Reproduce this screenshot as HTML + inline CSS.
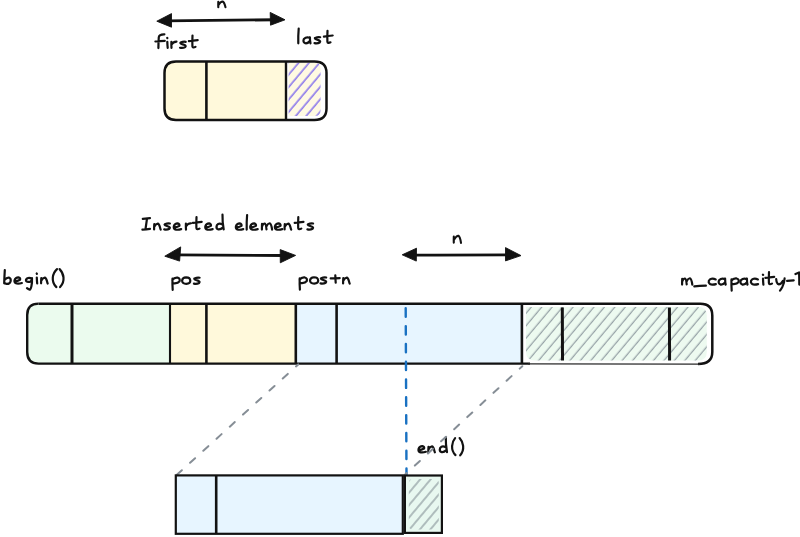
<!DOCTYPE html>
<html><head><meta charset="utf-8"><title>vector insert diagram</title>
<style>
html,body{margin:0;padding:0;background:#ffffff;width:800px;height:537px;overflow:hidden;font-family:"Liberation Sans",sans-serif}
svg{display:block}
</style></head>
<body>
<svg width="800" height="537" viewBox="0 0 800 537">
<defs>
<pattern id="hp" patternUnits="userSpaceOnUse" width="8" height="8" patternTransform="rotate(40)">
<rect x="-1" y="-1" width="10" height="10" fill="#fffae2"/>
<rect x="4.5" y="-1" width="1.25" height="10" fill="#6a54ee"/>
</pattern>
<pattern id="hg" patternUnits="userSpaceOnUse" width="8" height="8" patternTransform="rotate(40)">
<rect x="-1" y="-1" width="10" height="10" fill="#edfaf0"/>
<rect x="3.75" y="-1" width="1.1" height="10" fill="#8a969c"/>
</pattern>
<pattern id="hg2" patternUnits="userSpaceOnUse" width="8" height="8" patternTransform="rotate(40)">
<rect x="-1" y="-1" width="10" height="10" fill="#e8f8f0"/>
<rect x="5.5" y="-1" width="1.0" height="10" fill="#76828a"/>
</pattern>
</defs>

<!-- ===== TOP BOX ===== -->
<path d="M176,61.4 H286 V120 H176 Q164.5,120 164.5,108.5 V72.9 Q164.5,61.4 176,61.4 Z" fill="#fff9db"/>
<path d="M287.5,62.8 H315 Q321,62.8 321,68.8 V110.5 Q321,117 314.5,117 H287.5 Z" fill="#ffffff"/>
<path d="M288.6,62.8 H315 Q320.6,62.8 320.6,68.8 V110 Q320.6,116 314.6,116 H291 Q288.6,116 288.6,113.6 Z" fill="url(#hp)"/>
<path d="M176,61.4 H314.5 Q326.5,61.4 326.5,72.9 V108.5 Q326.5,120 314.5,120 H176 Q164.5,120 164.5,108.5 V72.9 Q164.5,61.4 176,61.4 Z" fill="none" stroke="#121212" stroke-width="2.5"/>
<line x1="206.4" y1="61.4" x2="206.4" y2="120" stroke="#121212" stroke-width="2.6"/>
<line x1="286" y1="61.4" x2="286" y2="120" stroke="#121212" stroke-width="2.4"/>

<!-- top arrow -->
<g fill="#121212" stroke="#121212" stroke-width="0.9" stroke-linejoin="round">
<path d="M156.8,21.2 L171.5,13.6 L171.5,27.2 Z"/>
<path d="M285,19.8 L270.2,12.4 L270.5,25.2 Z"/>
<path d="M164.8,256.2 L180.7,246.9 L179.6,261.1 Z"/>
<path d="M295.6,255.4 L280.2,249.6 L280.3,262.8 Z"/>
<path d="M402.2,254.8 L416.5,248.2 L416.3,261.1 Z"/>
<path d="M521,255.6 L505.5,247.6 L505.5,260.9 Z"/>
</g>
<g fill="none" stroke="#121212" stroke-width="2.9" stroke-linecap="round">
<path d="M166,20.9 Q220,20.2 276,19.7"/>
<path d="M175,254.9 Q230,255.1 285,255.5"/>
<path d="M410,255.1 Q460,255.2 510,254.9"/>
</g>

<!-- ===== BIG BAR ===== -->
<path d="M38.5,303.6 H170 V363.4 H38.5 Q27.2,363.4 27.2,352 V315 Q27.2,303.6 38.5,303.6 Z" fill="#ebfbee"/>
<rect x="170" y="303.5" width="126" height="60.5" fill="#fff9db"/>
<rect x="296" y="303.5" width="226" height="60.5" fill="#e7f5ff"/>
<path d="M526,307 H698 Q706.8,307 706.8,315.5 V352 Q706.8,360.6 698,360.6 H535 Q526,360.6 526,352 Z" fill="url(#hg)"/>
<!-- outer stroke -->
<path d="M38.5,303.7 H700.3 Q712.3,303.7 712.3,315.5 V352 Q712.3,364 698,364" fill="none" stroke="#121212" stroke-width="2.5"/>
<path d="M530,363.6 H38.5 Q27.2,363.4 27.2,352 V315 Q27.2,303.6 38.5,303.6" fill="none" stroke="#121212" stroke-width="2.4"/>
<line x1="528" y1="363.9" x2="700" y2="364.1" stroke="#2a2a2a" stroke-width="1.2"/>
<line x1="72" y1="303.5" x2="72" y2="364" stroke="#121212" stroke-width="3.0"/>
<line x1="170" y1="303.5" x2="170" y2="364" stroke="#121212" stroke-width="2.1"/>
<line x1="206.4" y1="303.5" x2="206.4" y2="364" stroke="#121212" stroke-width="2.6"/>
<line x1="295.8" y1="303.5" x2="295.8" y2="364" stroke="#121212" stroke-width="2.6"/>
<line x1="336.6" y1="303.5" x2="336.6" y2="364" stroke="#121212" stroke-width="2.6"/>
<line x1="521.9" y1="303.5" x2="521.9" y2="364" stroke="#121212" stroke-width="2.6"/>
<line x1="562.3" y1="307.5" x2="562.5" y2="360.5" stroke="#121212" stroke-width="3.0"/>
<line x1="669.4" y1="307.5" x2="669.6" y2="360.5" stroke="#121212" stroke-width="3.0"/>

<g fill="none" stroke="#121212" stroke-linecap="round" stroke-linejoin="round">
<path stroke-width="2.1" d="M218.3,1.8 Q218.2,4.5 218.3,7.3 M218.5,5 Q220.6,1.4 222.7,1.5 Q224.3,2.2 225.5,7.3"/>
<path transform="translate(155.40,48.10) scale(1.0,1.0)" vector-effect="non-scaling-stroke" stroke-width="2.20" d="M3,0 Q3,-6 3.4,-11 Q4,-14 9,-13.8 M0,-6.6 Q4.6,-7 9.4,-7.3"/>
<path transform="translate(166.90,48.10) scale(1.0,1.0)" vector-effect="non-scaling-stroke" stroke-width="2.20" d="M0.4,-6.2 Q0.5,-3.1 0.8,-0.2 M0.3,-10.2 L0.5,-9.9"/>
<path transform="translate(170.90,48.10) scale(1.0,0.86)" vector-effect="non-scaling-stroke" stroke-width="2.20" d="M0.5,-7.2 Q0.4,-3.6 0.6,-0.2 M0.7,-4.2 Q2,-7.2 5.6,-7.6"/>
<path transform="translate(179.40,48.10) scale(1.0,0.86)" vector-effect="non-scaling-stroke" stroke-width="2.20" d="M6.3,-7.3 Q4.2,-8 1.2,-6.5 Q0.6,-5.9 1.6,-5.2 Q3.4,-4.3 5.2,-3.6 Q7,-2.6 5.8,-1.2 Q3.8,0.2 0.6,-0.4"/>
<path transform="translate(188.90,48.10) scale(1.0,1.0)" vector-effect="non-scaling-stroke" stroke-width="2.20" d="M3.6,-12.6 Q3.3,-6.5 3.5,-1.8 Q3.9,0.3 6.6,-1.2 M0,-6.9 Q4.2,-7.4 8.8,-8"/>
<path transform="translate(297.50,43.50) scale(1.0,1.0)" vector-effect="non-scaling-stroke" stroke-width="2.20" d="M1.2,-14.8 Q0.6,-8 0.8,-0.2"/>
<path transform="translate(302.90,43.50) scale(1.0,0.86)" vector-effect="non-scaling-stroke" stroke-width="2.20" d="M7,-6.6 Q3.5,-8.4 1,-5.2 Q-0.4,-1.6 2.4,-0.3 Q5,0.2 7.2,-3.2 M7,-7.2 Q7,-3 7.6,-0.2"/>
<path transform="translate(313.90,43.50) scale(1.0,0.86)" vector-effect="non-scaling-stroke" stroke-width="2.20" d="M6.3,-7.3 Q4.2,-8 1.2,-6.5 Q0.6,-5.9 1.6,-5.2 Q3.4,-4.3 5.2,-3.6 Q7,-2.6 5.8,-1.2 Q3.8,0.2 0.6,-0.4"/>
<path transform="translate(323.90,43.50) scale(1.0,1.0)" vector-effect="non-scaling-stroke" stroke-width="2.20" d="M3.6,-12.6 Q3.3,-6.5 3.5,-1.8 Q3.9,0.3 6.6,-1.2 M0,-6.9 Q4.2,-7.4 8.8,-8"/>
<path transform="translate(142.40,229.80) scale(1.0,1.0)" vector-effect="non-scaling-stroke" stroke-width="2.20" d="M0.4,-11 Q4,-11.3 7.6,-11.6 M4.6,-11.2 Q3.9,-6 3.1,-0.8 M0,-0.1 Q3.8,-0.5 7.6,-1"/>
<path transform="translate(153.90,229.80) scale(1.0,0.86)" vector-effect="non-scaling-stroke" stroke-width="2.20" d="M0.4,-6.6 Q0.2,-3.3 0.2,-0.4 M0.4,-3.6 Q2.2,-7.1 3.8,-7.1 Q5.2,-6.9 6,-3.3 Q6.4,-1.4 6.8,-0.2"/>
<path transform="translate(163.60,229.80) scale(1.0,0.86)" vector-effect="non-scaling-stroke" stroke-width="2.20" d="M6.3,-7.3 Q4.2,-8 1.2,-6.5 Q0.6,-5.9 1.6,-5.2 Q3.4,-4.3 5.2,-3.6 Q7,-2.6 5.8,-1.2 Q3.8,0.2 0.6,-0.4"/>
<path transform="translate(173.40,229.80) scale(1.0,0.86)" vector-effect="non-scaling-stroke" stroke-width="2.20" d="M0.6,-2.8 Q3.5,-3 6,-4.6 Q6.6,-6.8 4.2,-7.4 Q1.4,-7.4 0.4,-4 Q0,-0.8 2.6,-0.2 Q5,0.2 7.8,-0.8"/>
<path transform="translate(185.40,229.80) scale(1.0,0.86)" vector-effect="non-scaling-stroke" stroke-width="2.20" d="M0.5,-7.2 Q0.4,-3.6 0.6,-0.2 M0.7,-4.2 Q2,-7.2 5.6,-7.6"/>
<path transform="translate(192.90,229.80) scale(1.0,1.0)" vector-effect="non-scaling-stroke" stroke-width="2.20" d="M3.6,-12.6 Q3.3,-6.5 3.5,-1.8 Q3.9,0.3 6.6,-1.2 M0,-6.9 Q4.2,-7.4 8.8,-8"/>
<path transform="translate(204.90,229.80) scale(1.0,0.86)" vector-effect="non-scaling-stroke" stroke-width="2.20" d="M0.6,-2.8 Q3.5,-3 6,-4.6 Q6.6,-6.8 4.2,-7.4 Q1.4,-7.4 0.4,-4 Q0,-0.8 2.6,-0.2 Q5,0.2 7.8,-0.8"/>
<path transform="translate(215.90,229.80) scale(1.0,1.0)" vector-effect="non-scaling-stroke" stroke-width="2.20" d="M6.6,-5.2 Q3,-7.2 1,-4.6 Q-0.2,-1.4 2,-0.5 Q4.4,0.2 7.2,-2.4 M6.6,-15.2 Q6.4,-8 7.8,-0.4"/>
<path transform="translate(235.50,229.80) scale(1.0,0.86)" vector-effect="non-scaling-stroke" stroke-width="2.20" d="M0.6,-2.8 Q3.5,-3 6,-4.6 Q6.6,-6.8 4.2,-7.4 Q1.4,-7.4 0.4,-4 Q0,-0.8 2.6,-0.2 Q5,0.2 7.8,-0.8"/>
<path transform="translate(245.90,229.80) scale(1.0,1.0)" vector-effect="non-scaling-stroke" stroke-width="2.20" d="M1.2,-14.8 Q0.6,-8 0.8,-0.2"/>
<path transform="translate(249.90,229.80) scale(1.0,0.86)" vector-effect="non-scaling-stroke" stroke-width="2.20" d="M0.6,-2.8 Q3.5,-3 6,-4.6 Q6.6,-6.8 4.2,-7.4 Q1.4,-7.4 0.4,-4 Q0,-0.8 2.6,-0.2 Q5,0.2 7.8,-0.8"/>
<path transform="translate(261.70,229.80) scale(1.0,0.86)" vector-effect="non-scaling-stroke" stroke-width="2.20" d="M0.3,-6.8 Q0.2,-3.3 0.2,-0.3 M0.4,-4 Q1.6,-7.4 3,-7.3 Q4.3,-7 4.8,-0.6 M4.8,-4.2 Q6.4,-7.8 8,-7.6 Q9.6,-7 10.4,-0.2"/>
<path transform="translate(274.50,229.80) scale(1.0,0.86)" vector-effect="non-scaling-stroke" stroke-width="2.20" d="M0.6,-2.8 Q3.5,-3 6,-4.6 Q6.6,-6.8 4.2,-7.4 Q1.4,-7.4 0.4,-4 Q0,-0.8 2.6,-0.2 Q5,0.2 7.8,-0.8"/>
<path transform="translate(284.40,229.80) scale(1.0,0.86)" vector-effect="non-scaling-stroke" stroke-width="2.20" d="M0.4,-6.6 Q0.2,-3.3 0.2,-0.4 M0.4,-3.6 Q2.2,-7.1 3.8,-7.1 Q5.2,-6.9 6,-3.3 Q6.4,-1.4 6.8,-0.2"/>
<path transform="translate(294.70,229.80) scale(1.0,1.0)" vector-effect="non-scaling-stroke" stroke-width="2.20" d="M3.6,-12.6 Q3.3,-6.5 3.5,-1.8 Q3.9,0.3 6.6,-1.2 M0,-6.9 Q4.2,-7.4 8.8,-8"/>
<path transform="translate(306.80,229.80) scale(1.0,0.86)" vector-effect="non-scaling-stroke" stroke-width="2.20" d="M6.3,-7.3 Q4.2,-8 1.2,-6.5 Q0.6,-5.9 1.6,-5.2 Q3.4,-4.3 5.2,-3.6 Q7,-2.6 5.8,-1.2 Q3.8,0.2 0.6,-0.4"/>
<path stroke-width="2.1" d="M453.8,236.6 Q453.7,239.6 453.8,242.6 M454,239.8 Q456.2,235.6 458.4,235.7 Q460,236.6 461,242.9"/>
<path transform="translate(3.60,283.70) scale(1.0,1.0)" vector-effect="non-scaling-stroke" stroke-width="2.20" d="M1.2,-13.6 Q0.8,-7 0.6,-0.4 M0.8,-3.6 Q3.2,-6.4 5.6,-6 Q7.6,-5.2 7,-2.4 Q6,0.4 3,0.2 Q1.6,0 0.8,-0.8"/>
<path transform="translate(14.10,283.70) scale(1.0,0.86)" vector-effect="non-scaling-stroke" stroke-width="2.20" d="M0.6,-2.8 Q3.5,-3 6,-4.6 Q6.6,-6.8 4.2,-7.4 Q1.4,-7.4 0.4,-4 Q0,-0.8 2.6,-0.2 Q5,0.2 7.8,-0.8"/>
<path transform="translate(25.40,283.70) scale(1.0,0.86)" vector-effect="non-scaling-stroke" stroke-width="2.20" d="M6.4,-5.4 Q4.5,-7.4 2,-6.4 Q0,-5 0.8,-3 Q2.4,-1.4 5.2,-2.6 Q6.4,-3.6 6.6,-6 M6.6,-6.4 Q6.8,-1 6,3 Q5.2,6.8 4.4,7 Q2.8,6.4 1.6,5.2"/>
<path transform="translate(36.40,283.70) scale(1.0,1.0)" vector-effect="non-scaling-stroke" stroke-width="2.20" d="M0.4,-6.2 Q0.5,-3.1 0.8,-0.2 M0.3,-10.2 L0.5,-9.9"/>
<path transform="translate(40.90,283.70) scale(1.0,0.86)" vector-effect="non-scaling-stroke" stroke-width="2.20" d="M0.4,-6.6 Q0.2,-3.3 0.2,-0.4 M0.4,-3.6 Q2.2,-7.1 3.8,-7.1 Q5.2,-6.9 6,-3.3 Q6.4,-1.4 6.8,-0.2"/>
<path transform="translate(51.40,283.70) scale(1.0,1.0)" vector-effect="non-scaling-stroke" stroke-width="2.20" d="M5.6,-14.6 C1,-10.5 -0.8,-2 5,3.4"/>
<path transform="translate(59.90,283.70) scale(1.0,1.0)" vector-effect="non-scaling-stroke" stroke-width="2.20" d="M-0.3,-14.6 C3.8,-10.5 5.8,-2.5 0.2,3.4"/>
<path transform="translate(171.90,284.00) scale(1.0,0.86)" vector-effect="non-scaling-stroke" stroke-width="2.20" d="M0.6,-6.4 Q0.4,0 0.8,6.8 M0.4,-4.6 Q2.4,-7.8 5.6,-7.4 Q8.6,-6.4 7.6,-3 Q6,-0.2 1.4,-0.8"/>
<path transform="translate(181.90,284.00) scale(1.0,0.86)" vector-effect="non-scaling-stroke" stroke-width="2.20" d="M4.2,-7.6 Q0.4,-7.4 0.2,-3.8 Q0.4,-0.2 4.4,-0.2 Q8.4,-0.4 8.4,-3.8 Q8.2,-7.6 4.2,-7.6 Z"/>
<path transform="translate(193.30,284.00) scale(1.0,0.86)" vector-effect="non-scaling-stroke" stroke-width="2.20" d="M6.3,-7.3 Q4.2,-8 1.2,-6.5 Q0.6,-5.9 1.6,-5.2 Q3.4,-4.3 5.2,-3.6 Q7,-2.6 5.8,-1.2 Q3.8,0.2 0.6,-0.4"/>
<path transform="translate(299.10,283.80) scale(1.0,0.86)" vector-effect="non-scaling-stroke" stroke-width="2.20" d="M0.6,-6.4 Q0.4,0 0.8,6.8 M0.4,-4.6 Q2.4,-7.8 5.6,-7.4 Q8.6,-6.4 7.6,-3 Q6,-0.2 1.4,-0.8"/>
<path transform="translate(309.80,283.80) scale(1.0,0.86)" vector-effect="non-scaling-stroke" stroke-width="2.20" d="M4.2,-7.6 Q0.4,-7.4 0.2,-3.8 Q0.4,-0.2 4.4,-0.2 Q8.4,-0.4 8.4,-3.8 Q8.2,-7.6 4.2,-7.6 Z"/>
<path transform="translate(319.90,283.80) scale(1.0,0.86)" vector-effect="non-scaling-stroke" stroke-width="2.20" d="M6.3,-7.3 Q4.2,-8 1.2,-6.5 Q0.6,-5.9 1.6,-5.2 Q3.4,-4.3 5.2,-3.6 Q7,-2.6 5.8,-1.2 Q3.8,0.2 0.6,-0.4"/>
<path transform="translate(330.70,283.80) scale(1.0,0.86)" vector-effect="non-scaling-stroke" stroke-width="2.20" d="M0,-6.2 Q4.5,-6.3 9,-6.6 M4.6,-9.8 Q4.8,-5.6 5,-1.2"/>
<path transform="translate(342.90,283.80) scale(1.0,0.86)" vector-effect="non-scaling-stroke" stroke-width="2.20" d="M0.4,-6.6 Q0.2,-3.3 0.2,-0.4 M0.4,-3.6 Q2.2,-7.1 3.8,-7.1 Q5.2,-6.9 6,-3.3 Q6.4,-1.4 6.8,-0.2"/>
<path transform="translate(681.90,284.80) scale(1.0,0.86)" vector-effect="non-scaling-stroke" stroke-width="2.20" d="M0.3,-6.8 Q0.2,-3.3 0.2,-0.3 M0.4,-4 Q1.6,-7.4 3,-7.3 Q4.3,-7 4.8,-0.6 M4.8,-4.2 Q6.4,-7.8 8,-7.6 Q9.6,-7 10.4,-0.2"/>
<path transform="translate(694.30,284.80) scale(1.0,0.86)" vector-effect="non-scaling-stroke" stroke-width="2.20" d="M0,1.8 Q5,1.2 11.6,1"/>
<path transform="translate(708.30,284.80) scale(1.0,0.86)" vector-effect="non-scaling-stroke" stroke-width="2.20" d="M7.4,-6.2 Q4.6,-8 2,-6.6 Q0,-5 0.4,-2.8 Q1.4,-0.2 4,-0.2 Q6,-0.2 7.6,-0.8"/>
<path transform="translate(718.10,284.80) scale(1.0,0.86)" vector-effect="non-scaling-stroke" stroke-width="2.20" d="M7,-6.6 Q3.5,-8.4 1,-5.2 Q-0.4,-1.6 2.4,-0.3 Q5,0.2 7.2,-3.2 M7,-7.2 Q7,-3 7.6,-0.2"/>
<path transform="translate(730.90,284.80) scale(1.0,0.86)" vector-effect="non-scaling-stroke" stroke-width="2.20" d="M0.6,-6.4 Q0.4,0 0.8,6.8 M0.4,-4.6 Q2.4,-7.8 5.6,-7.4 Q8.6,-6.4 7.6,-3 Q6,-0.2 1.4,-0.8"/>
<path transform="translate(739.90,284.80) scale(1.0,0.86)" vector-effect="non-scaling-stroke" stroke-width="2.20" d="M7,-6.6 Q3.5,-8.4 1,-5.2 Q-0.4,-1.6 2.4,-0.3 Q5,0.2 7.2,-3.2 M7,-7.2 Q7,-3 7.6,-0.2"/>
<path transform="translate(750.50,284.80) scale(1.0,0.86)" vector-effect="non-scaling-stroke" stroke-width="2.20" d="M7.4,-6.2 Q4.6,-8 2,-6.6 Q0,-5 0.4,-2.8 Q1.4,-0.2 4,-0.2 Q6,-0.2 7.6,-0.8"/>
<path transform="translate(762.60,284.80) scale(1.0,1.0)" vector-effect="non-scaling-stroke" stroke-width="2.20" d="M0.4,-6.2 Q0.5,-3.1 0.8,-0.2 M0.3,-10.2 L0.5,-9.9"/>
<path transform="translate(765.40,284.80) scale(1.0,1.0)" vector-effect="non-scaling-stroke" stroke-width="2.20" d="M3.6,-12.6 Q3.3,-6.5 3.5,-1.8 Q3.9,0.3 6.6,-1.2 M0,-6.9 Q4.2,-7.4 8.8,-8"/>
<path transform="translate(776.20,284.80) scale(1.0,0.86)" vector-effect="non-scaling-stroke" stroke-width="2.20" d="M0,-6.6 Q0.4,-1.4 2.4,-0.6 Q5,-0.6 6.6,-4.4 M8.4,-7.4 Q8.2,-2 6,2.8 Q4.6,5.6 3.8,6.8"/>
<path transform="translate(787.10,284.80) scale(1.0,0.86)" vector-effect="non-scaling-stroke" stroke-width="2.20" d="M0,-4.5 Q3.4,-4.7 6.6,-5.2"/>
<path transform="translate(795.50,284.80) scale(1.0,1.0)" vector-effect="non-scaling-stroke" stroke-width="2.20" d="M0,-10.8 Q2,-11.6 3.6,-12.4 Q3.8,-6 3.8,-0.2"/>
<path transform="translate(418.10,452.50) scale(1.0,0.86)" vector-effect="non-scaling-stroke" stroke-width="2.20" d="M0.6,-2.8 Q3.5,-3 6,-4.6 Q6.6,-6.8 4.2,-7.4 Q1.4,-7.4 0.4,-4 Q0,-0.8 2.6,-0.2 Q5,0.2 7.8,-0.8"/>
<path transform="translate(428.10,452.50) scale(1.0,0.86)" vector-effect="non-scaling-stroke" stroke-width="2.20" d="M0.4,-6.6 Q0.2,-3.3 0.2,-0.4 M0.4,-3.6 Q2.2,-7.1 3.8,-7.1 Q5.2,-6.9 6,-3.3 Q6.4,-1.4 6.8,-0.2"/>
<path transform="translate(439.20,452.50) scale(1.0,1.0)" vector-effect="non-scaling-stroke" stroke-width="2.20" d="M6.6,-5.2 Q3,-7.2 1,-4.6 Q-0.2,-1.4 2,-0.5 Q4.4,0.2 7.2,-2.4 M6.6,-15.2 Q6.4,-8 7.8,-0.4"/>
<path transform="translate(451.10,452.50) scale(1.0,1.0)" vector-effect="non-scaling-stroke" stroke-width="2.20" d="M4,-14.4 C0.6,-10.5 -0.8,-2.5 4.4,2.6"/>
<path transform="translate(459.60,452.50) scale(1.0,1.0)" vector-effect="non-scaling-stroke" stroke-width="2.20" d="M0,-14.4 C3.6,-10.5 5.6,-3 0.6,2.8"/>
</g>

<!-- blue dashed vertical -->
<line x1="405.7" y1="308.3" x2="406.5" y2="475" stroke="#1971c2" stroke-width="2.4" stroke-dasharray="8.4,9.4" stroke-linecap="round"/>

<!-- gray dashed -->
<line x1="298.2" y1="364.4" x2="176" y2="475.6" stroke="#868e96" stroke-width="2" stroke-dasharray="6.8,11.1" stroke-dashoffset="3.8" stroke-linecap="round"/>
<line x1="522.3" y1="366.2" x2="403.6" y2="476" stroke="#868e96" stroke-width="2" stroke-dasharray="6.8,11.05" stroke-dashoffset="3.25" stroke-linecap="round"/>

<!-- ===== BOTTOM BOX ===== -->
<rect x="175.8" y="475.4" width="227" height="58.4" fill="#e7f5ff" stroke="#121212" stroke-width="2.2"/>
<line x1="216.2" y1="475.4" x2="216.2" y2="533.8" stroke="#121212" stroke-width="2.6"/>
<rect x="404.9" y="475.5" width="37" height="57.4" fill="#e8f8f0" stroke="#121212" stroke-width="2.2"/>
<rect x="408.8" y="479" width="30" height="50.5" rx="4" fill="url(#hg2)"/>
</svg>
</body></html>
